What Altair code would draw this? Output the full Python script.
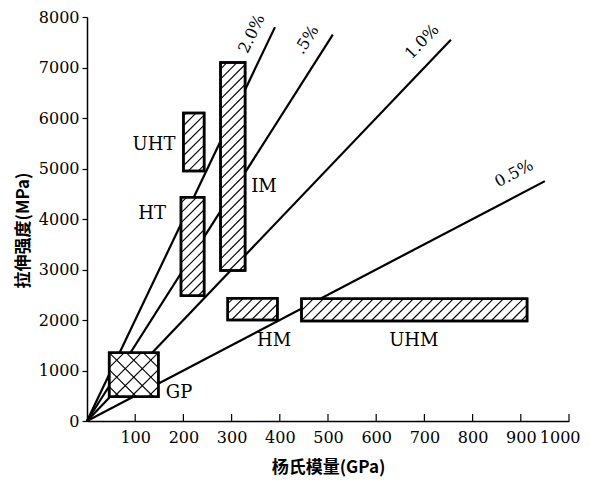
import math
import altair as alt
import pandas as pd

# ---------------- data ----------------
x_ticks = [100, 200, 300, 400, 500, 600, 700, 800, 900, 1000]
y_ticks = [0, 1000, 2000, 3000, 4000, 5000, 6000, 7000, 8000]

strain_names = ["2.0%", ".5%", "1.0%", "0.5%"]
strain_vals = [0.020, 0.015, 0.010, 0.005]
strain_end_E = [390, 510, 755, 950]
strain_label_E = [342, 456, 695, 886]
strain_label_S = [7670, 7550, 7510, 4900]

box_names = ["UHT", "HT", "IM", "HM", "UHM", "GP"]
box_E0 = [200, 195, 277, 292, 445, 46]
box_E1 = [243, 243, 328, 395, 913, 148]
box_S0 = [4950, 2480, 2980, 2000, 1980, 480]
box_S1 = [6100, 4430, 7100, 2430, 2420, 1350]
box_hatch = ["single", "single", "single", "single", "single", "cross"]
name_E = [139, 135, 367, 388, 678, 191]
name_S = [5470, 4090, 4640, 1580, 1580, 550]

# ---------------- layout ----------------
W, H = 482, 404
XMAX, YMAX = 1000, 8000
sx = W / XMAX
sy = H / YMAX

# strain lines
lines_df = pd.DataFrame({
    "name": strain_names,
    "x0": [0] * len(strain_vals),
    "y0": [0] * len(strain_vals),
    "x1": strain_end_E,
    "y1": [s * e * 1000 for s, e in zip(strain_vals, strain_end_E)],
})
lab_df = pd.DataFrame({
    "name": strain_names,
    "x": strain_label_E,
    "y": strain_label_S,
    "ang": [360 - math.degrees(math.atan(s * 1000 * sy / sx)) for s in strain_vals],
})

boxes_df = pd.DataFrame({
    "name": box_names, "E0": box_E0, "E1": box_E1, "S0": box_S0, "S1": box_S1,
})
names_df = pd.DataFrame({"name": box_names, "x": name_E, "y": name_S})


def hatch(x0, x1, y0, y1, slope, step):
    X0, X1, Y0, Y1 = x0 * sx, x1 * sx, y0 * sy, y1 * sy
    if slope > 0:
        cmin, cmax = Y0 - X1, Y1 - X0
    else:
        cmin, cmax = Y0 + X0, Y1 + X1
    segs = []
    c = cmin + step * 0.6
    eps = 1e-6
    while c < cmax:
        pts = []
        for X in (X0, X1):
            Y = slope * X + c
            if Y0 - eps <= Y <= Y1 + eps:
                pts.append((X, Y))
        for Y in (Y0, Y1):
            X = (Y - c) / slope
            if X0 - eps <= X <= X1 + eps:
                pts.append((X, Y))
        pts = sorted(set((round(a, 4), round(b, 4)) for a, b in pts))
        if len(pts) >= 2:
            (ax, ay), (bx, by) = pts[0], pts[-1]
            if abs(ax - bx) + abs(ay - by) > 1:
                segs.append((ax / sx, ay / sy, bx / sx, by / sy))
        c += step
    return segs


rows = []
for e0, e1, s0, s1, kind in zip(box_E0, box_E1, box_S0, box_S1, box_hatch):
    if kind == "single":
        segs = hatch(e0, e1, s0, s1, 1, 10)
    else:
        segs = hatch(e0, e1, s0, s1, 1, 17) + hatch(e0, e1, s0, s1, -1, 17)
    for a, b, c, d in segs:
        rows.append({"x": a, "y": b, "x2": c, "y2": d})
hatch_df = pd.DataFrame(rows)

tick_len = 7 / sy
xt_df = pd.DataFrame({"x": x_ticks, "y": [0] * len(x_ticks), "y2": [tick_len] * len(x_ticks)})

xsc = alt.Scale(domain=[0, XMAX], nice=False, zero=True)
ysc = alt.Scale(domain=[0, YMAX], nice=False, zero=True)

x_axis = alt.Axis(values=x_ticks, format="d", ticks=False, grid=False, labelOverlap=False,
                  labelFlush=True, labelFlushOffset=11, labelFontSize=16,
                  title="杨氏模量(GPa)", labelPadding=8, titlePadding=14)
y_axis = alt.Axis(values=y_ticks, format="d", tickSize=5, grid=False, labelOverlap=False,
                  labelFlush=False, title="拉伸强度(MPa)", labelPadding=3, titlePadding=6,
                  titleY=213)

base = alt.Chart(lines_df)
strain_lines = base.mark_rule(color="black", strokeWidth=2.2).encode(
    x=alt.X("x0:Q", scale=xsc, axis=x_axis),
    y=alt.Y("y0:Q", scale=ysc, axis=y_axis),
    x2="x1:Q", y2="y1:Q",
)
strain_text = alt.Chart(lab_df).mark_text(
    font="DejaVu Serif", fontSize=16, color="black", align="center", baseline="middle"
).encode(x=alt.X("x:Q", scale=xsc), y=alt.Y("y:Q", scale=ysc), text="name:N",
         angle=alt.Angle("ang:Q", scale=None))

boxes = alt.Chart(boxes_df).mark_rect(fill="white", stroke="black", strokeWidth=2.5).encode(
    x=alt.X("E0:Q", scale=xsc), x2="E1:Q", y=alt.Y("S0:Q", scale=ysc), y2="S1:Q"
)
hatches = alt.Chart(hatch_df).mark_rule(color="black", strokeWidth=1.1).encode(
    x=alt.X("x:Q", scale=xsc), y=alt.Y("y:Q", scale=ysc), x2="x2:Q", y2="y2:Q"
)
box_outline = alt.Chart(boxes_df).mark_rect(fill=None, stroke="black", strokeWidth=2.5).encode(
    x=alt.X("E0:Q", scale=xsc), x2="E1:Q", y=alt.Y("S0:Q", scale=ysc), y2="S1:Q"
)
names = alt.Chart(names_df).mark_text(
    font="DejaVu Serif", fontSize=18, color="black", align="center", baseline="middle"
).encode(x=alt.X("x:Q", scale=xsc), y=alt.Y("y:Q", scale=ysc), text="name:N")

xticks = alt.Chart(xt_df).mark_rule(color="black", strokeWidth=1.2).encode(
    x=alt.X("x:Q", scale=xsc), y=alt.Y("y:Q", scale=ysc), y2="y2:Q"
)

chart = alt.layer(strain_lines, strain_text, boxes, hatches, box_outline, names, xticks).properties(
    width=W, height=H,
    autosize=alt.AutoSizeParams(type="none"),
    padding={"left": 79, "top": 9, "right": 12, "bottom": 57},
).configure_view(stroke=None).configure_axis(
    labelFont="DejaVu Serif", labelFontSize=16, labelColor="black",
    domainColor="black", domainWidth=1.5, tickColor="black", tickWidth=1.2,
    titleFont="Noto Sans CJK SC", titleFontSize=17, titleFontWeight="bold", titleColor="black",
)

chart.save("out.html", embed_options={"renderer": "svg", "actions": False})
